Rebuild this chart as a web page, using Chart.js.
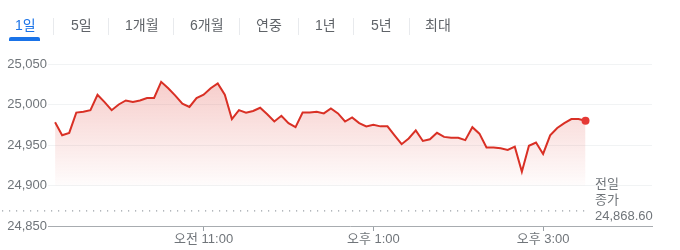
<!DOCTYPE html>
<html>
<head>
<meta charset="utf-8">
<script src="https://cdn.jsdelivr.net/npm/chart.js@4"></script>
<style>
  body { margin: 0; width: 680px; height: 250px; background: #fff; overflow: hidden;
         font-family: 'Liberation Sans', 'Noto Sans CJK KR', sans-serif; }
  #tabs { position: absolute; left: 0; top: 0; width: 680px; height: 48px; }
  .tab { position: absolute; top: 16px; font-size: 14px; color: #5f6368; line-height: 18px; }
  .tab.on { color: #1a73e8; }
  .sep { position: absolute; top: 18px; width: 1px; height: 17px; background: #e8eaed; }
  #bar { position: absolute; left: 9px; top: 37px; width: 31px; height: 4px; border-radius: 2px 2px 0 0; background: #1a73e8; }
  #wrap { position: absolute; left: 0; top: 0; width: 680px; height: 250px; }
</style>
</head>
<body>
<div id="wrap"><canvas id="nifty" width="680" height="250"></canvas></div>
<div id="tabs">
  <span class="tab on" style="left:15px">1일</span>
  <span class="sep" style="left:53px"></span>
  <span class="tab" style="left:71px">5일</span>
  <span class="sep" style="left:108px"></span>
  <span class="tab" style="left:125px">1개월</span>
  <span class="sep" style="left:173px"></span>
  <span class="tab" style="left:190px">6개월</span>
  <span class="sep" style="left:239px"></span>
  <span class="tab" style="left:256px">연중</span>
  <span class="sep" style="left:298px"></span>
  <span class="tab" style="left:315px">1년</span>
  <span class="sep" style="left:353px"></span>
  <span class="tab" style="left:371px">5년</span>
  <span class="sep" style="left:409px"></span>
  <span class="tab" style="left:425px">최대</span>
  <div id="bar"></div>
</div>
<script>
// 5-minute prices, 09:15 to 15:30
const startMinute = 9 * 60 + 15;
const prices = [
  24978, 24962, 24965, 24990, 24991, 24993, 25012, 25003, 24993, 25000,
  25005, 25003, 25005, 25008, 25008, 25028, 25020, 25011, 25001, 24997,
  25008, 25012, 25020, 25026, 25012, 24982, 24993, 24990, 24992, 24996,
  24988, 24979, 24986, 24977, 24972, 24990, 24990, 24991, 24989, 24995,
  24989, 24979, 24984, 24977, 24973, 24975, 24973, 24973, 24962, 24951,
  24958, 24968, 24955, 24957, 24965, 24960, 24959, 24959, 24956, 24972,
  24964, 24947, 24947, 24946, 24944, 24948, 24917, 24949, 24953, 24939,
  24962, 24971, 24977, 24982, 24982, 24980
];
const prevClose = 24868.60;
const tickMinutes = [660, 780, 900];
const tickLabels = ['오전 11:00', '오후 1:00', '오후 3:00'];
const yTicks = [24850, 24900, 24950, 25000, 25050];

const points = prices.map((v, i) => ({ x: startMinute + i * 5, y: v }));

const font = "'Liberation Sans', 'Noto Sans CJK KR', sans-serif";
const red = '#d93025';

const closeLine = {
  id: 'closeLine',
  beforeDatasetsDraw(chart) {
    const ctx = chart.ctx;
    const y = chart.scales.y.getPixelForValue(prevClose);
    ctx.save();
    ctx.strokeStyle = '#9aa0a6';
    ctx.lineWidth = 1.2;
    ctx.setLineDash([1.2, 5.8]);
    ctx.beginPath();
    ctx.moveTo(2, y);
    ctx.lineTo(590, y);
    ctx.stroke();
    ctx.setLineDash([]);
    ctx.fillStyle = '#70757a';
    ctx.font = '13px ' + font;
    ctx.textBaseline = 'middle';
    ctx.fillText('전일', 595, y - 27);
    ctx.fillText('종가', 595, y - 11);
    ctx.fillText('24,868.60', 595, y + 5);
    ctx.restore();
  }
};

const ctx = document.getElementById('nifty').getContext('2d');
const grad = ctx.createLinearGradient(0, 80, 0, 185);
grad.addColorStop(0, 'rgba(226, 88, 80, 0.30)');
grad.addColorStop(1, 'rgba(226, 88, 80, 0.02)');

new Chart(ctx, {
  type: 'line',
  data: {
    datasets: [{
      data: points,
      borderColor: red,
      borderWidth: 2,
      tension: 0,
      fill: { value: 24900 },
      backgroundColor: grad,
      pointRadius: points.map((p, i) => i === points.length - 1 ? 4 : 0),
      pointBackgroundColor: '#e53935',
      pointBorderWidth: 0
    }]
  },
  options: {
    responsive: false,
    animation: false,
    devicePixelRatio: 1,
    layout: { padding: { top: 64, right: 28, left: 0, bottom: 0 } },
    plugins: { legend: { display: false }, tooltip: { enabled: false } },
    scales: {
      x: {
        type: 'linear',
        min: 550,
        max: 977,
        afterFit: s => { s.height = 24; },
        afterBuildTicks: s => { s.ticks = tickMinutes.map(v => ({ value: v })); },
        grid: { drawOnChartArea: false, drawTicks: true, tickLength: 5, tickColor: '#9aa0a6' },
        border: { color: '#a8acb0', width: 1 },
        ticks: {
          padding: 1,
          color: '#70757a',
          font: { size: 13, family: font },
          maxRotation: 0,
          callback: v => tickLabels[tickMinutes.indexOf(v)]
        }
      },
      y: {
        min: 24850,
        max: 25050,
        afterFit: s => { s.width = 48; },
        afterBuildTicks: s => { s.ticks = yTicks.map(v => ({ value: v })); },
        grid: { color: '#f1f3f4', drawTicks: false },
        border: { display: false },
        ticks: {
          padding: 1,
          color: '#70757a',
          font: { size: 13, family: font },
          callback: v => v.toLocaleString('en-US')
        }
      }
    }
  },
  plugins: [closeLine]
});
</script>
</body>
</html>
